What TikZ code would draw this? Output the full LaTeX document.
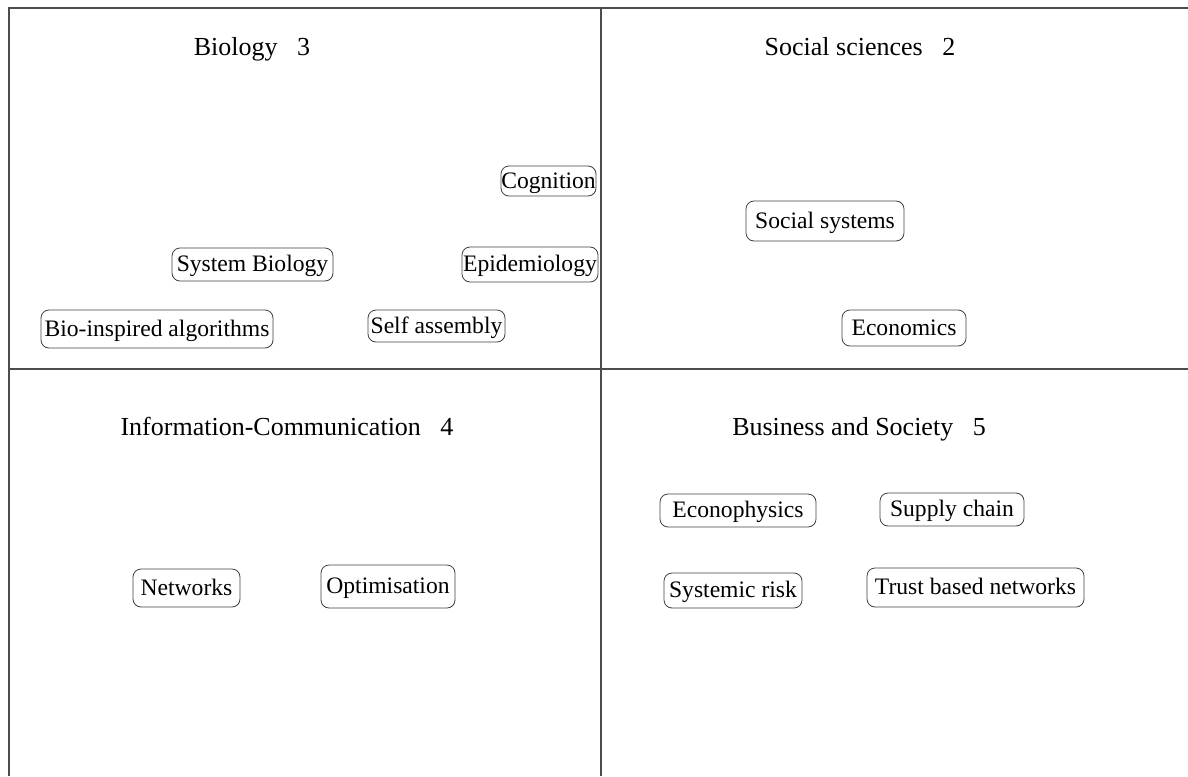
\documentclass[tikz,border=0pt]{standalone}
\usepackage{fontspec}
\setmainfont{Liberation Serif}
\usepackage{tikz}

\begin{document}
\begin{tikzpicture}[x=0.5pt,y=-0.5pt]
	\tikzstyle{frame}=[draw=black!70,line width=0.8pt]
	\tikzstyle{title}=[text height=0.7em,text depth=0.22em,font=\fontsize{13}{15}\selectfont]
	\tikzstyle{topic}=[draw=black!75,rounded corners=4pt,inner sep=0pt,text height=0.8em,text depth=0.1em,font=\fontsize{11.8}{14}\selectfont]
	\tikzset{boxsize/.style 2 args={minimum width=#1*0.5pt,minimum height=#2*0.5pt}}
	\useasboundingbox (0,0) rectangle (1188,776);

	% quadrant lines
	\draw[frame] (9,776) -- (9,8) -- (1188,8);
	\draw[frame] (601,8) -- (601,776);
	\draw[frame] (9,369) -- (1188,369);

	% titles
	\node[title] (bio) at (252,51) {Biology~~~3};
	\node[title] (soc) at (860,51) {Social sciences~~~2};
	\node[title] (info) at (287,431) {Information-Communication~~~4};
	\node[title] (bus) at (859,431) {Business and Society~~~5};

	% Biology
	\node[topic,boxsize={95}{30}] (cognition) at (548.5,181) {Cognition};
	\node[topic,boxsize={161}{33}] (sysbio) at (252.5,264.5) {System Biology};
	\node[topic,boxsize={136}{35}] (epidem) at (530,264.5) {Epidemiology};
	\node[topic,boxsize={232}{38}] (bioinsp) at (157,329) {Bio-inspired algorithms};
	\node[topic,boxsize={137}{32}] (selfass) at (436.5,326) {Self assembly};

	% Social sciences
	\node[topic,boxsize={158}{40}] (socsys) at (825,221) {Social systems};
	\node[topic,boxsize={124}{36}] (econ) at (904,328) {Economics};

	% Information-Communication
	\node[topic,boxsize={107}{38}] (netw) at (186.5,588) {Networks};
	\node[topic,boxsize={134}{43}] (optim) at (388,586.5) {Optimisation};

	% Business and Society
	\node[topic,boxsize={156}{33}] (econophys) at (738,510.5) {Econophysics};
	\node[topic,boxsize={144}{33}] (supply) at (952,509.5) {Supply chain};
	\node[topic,boxsize={138}{35}] (sysrisk) at (733,590.5) {Systemic risk};
	\node[topic,boxsize={217}{39}] (trust) at (975.5,587.5) {Trust based networks};
\end{tikzpicture}
\end{document}
